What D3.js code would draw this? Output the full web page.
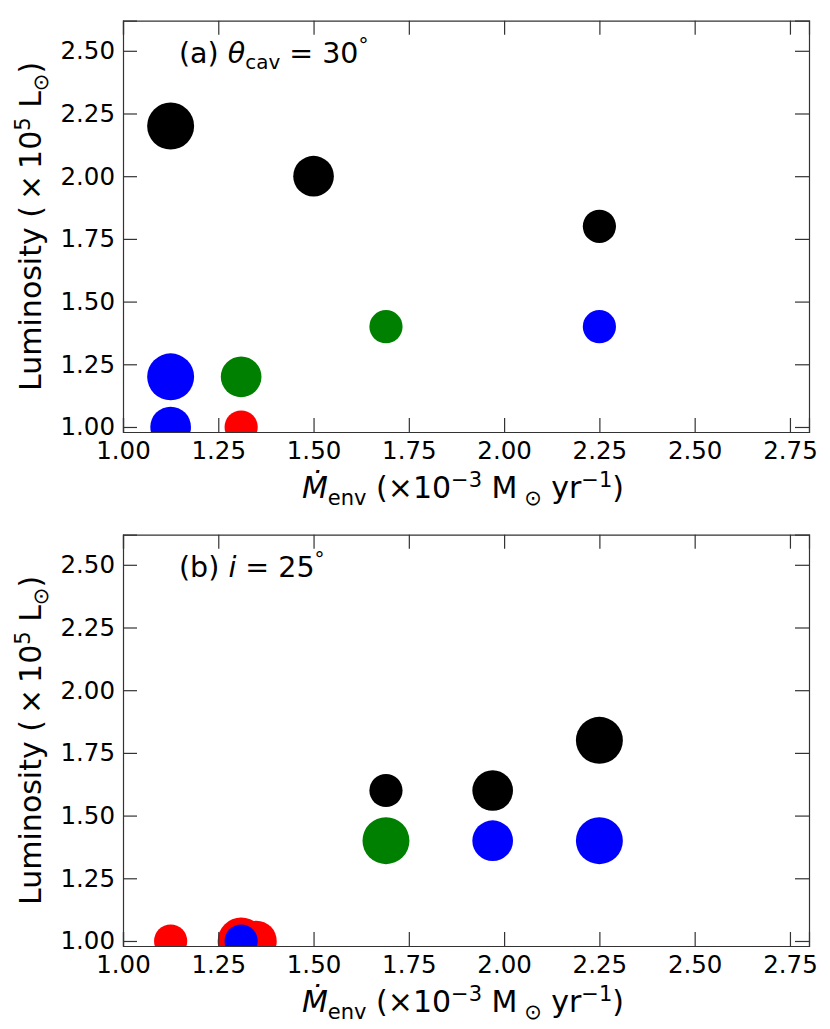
<!DOCTYPE html>
<html>
<head>
<meta charset="utf-8">
<script src="https://cdn.jsdelivr.net/npm/d3@7"></script>
<style>
  body { margin: 0; background: #fff; }
  svg { display: block; font-family: "DejaVu Sans", sans-serif; }
</style>
</head>
<body>
<svg id="chart" width="830" height="1029"></svg>
<script>
// tick values shared by both panels
const xTicks = [1.00, 1.25, 1.50, 1.75, 2.00, 2.25, 2.50, 2.75];
const yTicks = [1.00, 1.25, 1.50, 1.75, 2.00, 2.25, 2.50];

// panel (a): theta_cav = 30 deg
const aMdot  = [1.125, 1.5, 2.25, 1.69, 2.25, 1.125, 1.31, 1.125, 1.31];
const aLum   = [2.20, 2.00, 1.80, 1.40, 1.40, 1.20, 1.20, 1.00, 1.00];
const aSize  = [2, 1.5, 1, 1, 1, 2, 1.5, 1.5, 1];
const aColor = ["black", "black", "black", "green", "blue", "blue", "green", "blue", "red"];

// panel (b): i = 25 deg
const bMdot  = [1.69, 1.97, 2.25, 1.69, 1.97, 2.25, 1.125, 1.31, 1.35, 1.31];
const bLum   = [1.60, 1.60, 1.80, 1.40, 1.40, 1.40, 1.00, 1.00, 1.00, 1.00];
const bSize  = [1, 1.5, 2, 2, 1.5, 2, 1, 2, 1.5, 1];
const bColor = ["black", "black", "black", "green", "blue", "blue", "red", "red", "red", "blue"];

const W = 830;
const margin = {left: 123, right: 21};
const panelH = 411.3;
const panels = [
  {top: 20.7, id: "a", x: aMdot, y: aLum, s: aSize, c: aColor,
   label: [{t: "(a) "}, {t: "θ", it: true}, {t: "cav", sub: true}, {t: " = 30"}, {t: "°", sup: true}]},
  {top: 534.7, id: "b", x: bMdot, y: bLum, s: bSize, c: bColor,
   label: [{t: "(b) "}, {t: "i", it: true}, {t: " = 25"}, {t: "°", sup: true}]}
];

const tickFont = 24.5;
const labelFont = 30;
const panelFont = 28.5;

const x = d3.scaleLinear().domain([1.0, 2.8]).range([margin.left, W - margin.right]);
const y = d3.scaleLinear().domain([0.98, 2.62]).range([panelH, 0]);
const r = d3.scaleSqrt().domain([0, 1]).range([0, 16.6]);

const svg = d3.select("#chart");

// writes mixed text (italic / sub / sup) as tspans
function rich(textSel, parts, size) {
  let shift = 0;
  parts.forEach(p => {
    const ts = textSel.append("tspan").text(p.t);
    let target = 0;
    if (p.sub) { target = 0.22 * size; ts.attr("font-size", size * 0.7); }
    if (p.sup) { target = -0.38 * size; ts.attr("font-size", size * 0.7); }
    if (p.it) ts.attr("font-style", "italic");
    ts.attr("dy", target - shift);
    shift = target;
  });
}

panels.forEach(p => {
  const g = svg.append("g").attr("transform", `translate(0,${p.top})`);

  g.append("clipPath").attr("id", "clip-" + p.id)
    .append("rect")
    .attr("x", margin.left).attr("y", 0)
    .attr("width", W - margin.right - margin.left).attr("height", panelH);

  const pts = p.x.map((v, i) => ({mdot: v, lum: p.y[i], size: p.s[i], color: p.c[i]}));

  g.append("g").attr("clip-path", `url(#clip-${p.id})`)
    .selectAll("circle")
    .data(pts)
    .enter()
    .append("circle")
    .attr("cx", d => x(d.mdot))
    .attr("cy", d => y(d.lum))
    .attr("r", d => r(d.size))
    .attr("fill", d => d.color);

  // axes with inward ticks on all four sides
  const fmt = d3.format(".2f");
  const bottom = g.append("g").attr("transform", `translate(0,${panelH})`)
    .call(d3.axisBottom(x).tickValues(xTicks).tickFormat(fmt).tickSize(-14).tickPadding(10));
  const left = g.append("g").attr("transform", `translate(${margin.left},0)`)
    .call(d3.axisLeft(y).tickValues(yTicks).tickFormat(fmt).tickSize(-14).tickPadding(8));
  const top = g.append("g")
    .call(d3.axisTop(x).tickValues(xTicks).tickFormat("").tickSize(-14));
  const right = g.append("g").attr("transform", `translate(${W - margin.right},0)`)
    .call(d3.axisRight(y).tickValues(yTicks).tickFormat("").tickSize(-14));

  [bottom, left, top, right].forEach(a => {
    a.select(".domain").attr("stroke", "#333").attr("stroke-width", 1.2);
    a.selectAll(".tick line").attr("stroke", "#333").attr("stroke-width", 1.2);
    a.selectAll(".tick text").attr("font-size", tickFont).attr("fill", "#000")
      .attr("font-family", "DejaVu Sans");
  });

  // panel label
  const lbl = g.append("text").attr("x", 179).attr("y", 42)
    .attr("font-size", panelFont);
  rich(lbl, p.label, panelFont);

  // x axis label
  const xl = g.append("text")
    .attr("x", (margin.left + W - margin.right) / 2 - 3)
    .attr("y", 477.5)
    .attr("text-anchor", "middle")
    .attr("font-size", labelFont);
  rich(xl, [{t: "Ṁ", it: true}, {t: "env", sub: true}, {t: " (×10"}, {t: "−3", sup: true},
            {t: " M"}, {t: " ⊙", sub: true}, {t: " yr"}, {t: "−1", sup: true}, {t: ")"}], labelFont);

  // y axis label
  const yl = g.append("text")
    .attr("transform", `translate(41,${panelH / 2}) rotate(-90)`)
    .attr("text-anchor", "middle")
    .attr("font-size", labelFont);
  rich(yl, [{t: "Luminosity (\u2009×\u200910"}, {t: "5", sup: true}, {t: " L"}, {t: "⊙", sub: true}, {t: ")"}], labelFont);
});
</script>
</body>
</html>
